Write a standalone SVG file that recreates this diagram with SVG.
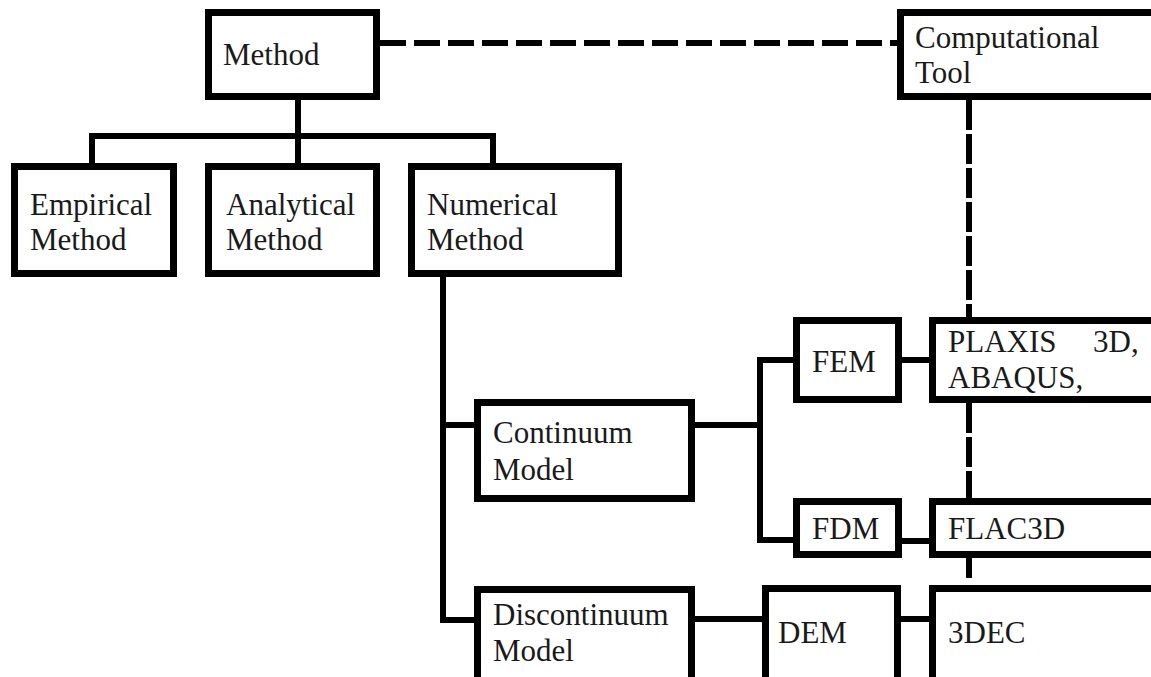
<svg xmlns="http://www.w3.org/2000/svg" width="1151" height="677" viewBox="0 0 1151 677">
<style>
.box{fill:#fff;stroke:#000;stroke-width:7}
.ln{fill:none;stroke:#000;stroke-width:6}
.dash{fill:none;stroke:#000;stroke-width:6;stroke-dasharray:26 8}
.vdash{fill:none;stroke:#000;stroke-width:6;stroke-dasharray:30 4}
.t{font-size:31px;fill:#1a1a1a}
</style>
<rect width="1151" height="677" fill="#fff"/>
<g id="connectors">
<path class="dash" d="M380 43H897"/>
<path class="vdash" d="M969 100V317"/>
<path class="vdash" d="M969 403V498"/>
<path class="ln" d="M969 558V578"/>
<path class="ln" d="M298 100V163"/>
<path class="ln" d="M92 163V136H493V165"/>
<path class="ln" d="M443 277V620H474"/>
<path class="ln" d="M443 425H474"/>
<path class="ln" d="M695 425H760"/>
<path class="ln" d="M793 360H760V540H793"/>
<path class="ln" d="M902 360H929"/>
<path class="ln" d="M902 541H929"/>
<path class="ln" d="M695 619H762"/>
<path class="ln" d="M901 619H929"/>
</g>
<g font-family="'Liberation Serif', 'Times New Roman', 'DejaVu Serif', serif">
<g id="method"><rect class="box" x="208.5" y="12.5" width="168" height="84"/><text class="t" x="223" y="65">Method</text></g>
<g id="computational-tool"><rect class="box" x="900.5" y="12.5" width="300" height="84"/><text class="t" x="915" y="48">Computational</text><text class="t" x="915" y="83">Tool</text></g>
<g id="empirical"><rect class="box" x="14.5" y="166.5" width="159" height="107"/><text class="t" x="30" y="215">Empirical</text><text class="t" x="30" y="250">Method</text></g>
<g id="analytical"><rect class="box" x="208.5" y="166.5" width="168" height="107"/><text class="t" x="226" y="215">Analytical</text><text class="t" x="226" y="250">Method</text></g>
<g id="numerical"><rect class="box" x="411.5" y="166.5" width="207" height="107"/><text class="t" x="427" y="215">Numerical</text><text class="t" x="427" y="250">Method</text></g>
<g id="continuum"><rect class="box" x="477.5" y="402.5" width="214" height="96"/><text class="t" x="493" y="443">Continuum</text><text class="t" x="493" y="480">Model</text></g>
<g id="discontinuum"><rect class="box" x="477.5" y="589.5" width="214" height="120"/><text class="t" x="493" y="625">Discontinuum</text><text class="t" x="493" y="661">Model</text></g>
<g id="fem"><rect class="box" x="796.5" y="320.5" width="102" height="79"/><text class="t" x="812" y="372">FEM</text></g>
<g id="plaxis"><rect class="box" x="932.5" y="320.5" width="300" height="79"/><text class="t" x="948" y="352">PLAXIS</text><text class="t" x="1093" y="352">3D,</text><text class="t" x="948" y="388">ABAQUS,</text></g>
<g id="fdm"><rect class="box" x="796.5" y="501.5" width="102" height="53"/><text class="t" x="812" y="539">FDM</text></g>
<g id="flac3d"><rect class="box" x="932.5" y="501.5" width="300" height="53"/><text class="t" x="948" y="539">FLAC3D</text></g>
<g id="dem"><rect class="box" x="765.5" y="588.5" width="132" height="120"/><text class="t" x="778" y="643">DEM</text></g>
<g id="3dec"><rect class="box" x="932.5" y="588.5" width="300" height="120"/><text class="t" x="948" y="643">3DEC</text></g>
</g>
</svg>
